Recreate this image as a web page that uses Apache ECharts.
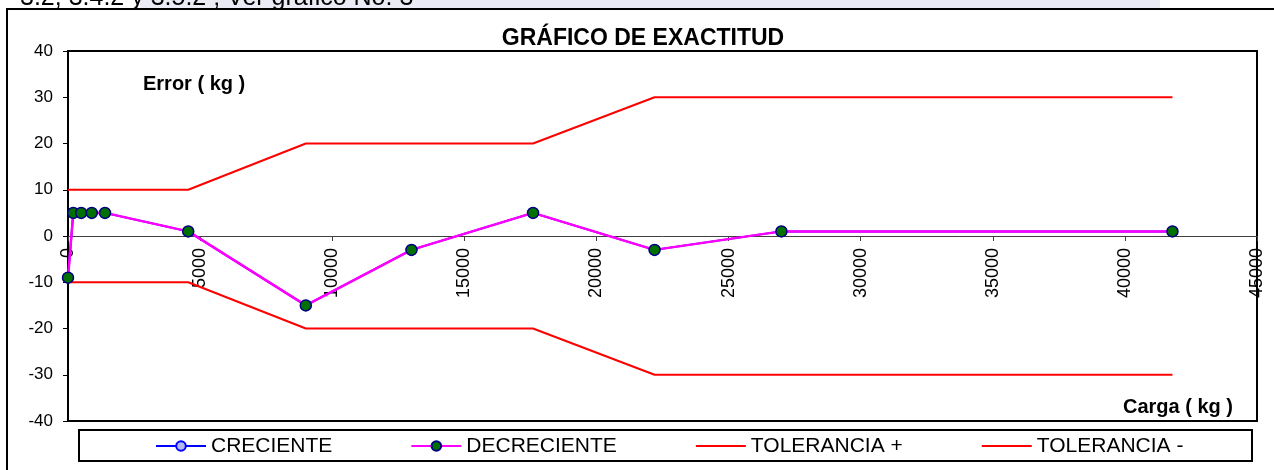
<!DOCTYPE html>
<html>
<head>
<meta charset="utf-8">
<script src="https://cdn.jsdelivr.net/npm/echarts@6/dist/echarts.min.js"></script>
<style>
  html, body { margin: 0; padding: 0; background: #fff; }
  #chart { width: 1274px; height: 470px; }
</style>
</head>
<body>
<div id="chart"></div>
<script>
// carga (kg) de cada punto de ensayo
var cargas = [0, 200, 500, 900, 1400, 4550, 9000, 13000, 17600, 22200, 27000, 41800];
// error (kg) en carga creciente y decreciente
var errCreciente = [-9, 5, 5, 5, 5, 1, -15, -3, 5, -3, 1, 1];
var errDecreciente = [-9, 5, 5, 5, 5, 1, -15, -3, 5, -3, 1, 1];
// tolerancias
var tolCargas = [0, 4550, 9000, 13000, 17600, 22200, 27000, 41800];
var tolMas = [10, 10, 20, 20, 20, 30, 30, 30];
var tolMenos = [-10, -10, -20, -20, -20, -30, -30, -30];

var nombres = ['CRECIENTE', 'DECRECIENTE', 'TOLERANCIA +', 'TOLERANCIA -'];

function pares(xs, ys) {
    return xs.map(function (x, i) { return [x, ys[i]]; });
}

var font = '"Liberation Sans", Arial, sans-serif';

var chart = echarts.init(document.getElementById('chart'));

var option = {
    animation: false,
    textStyle: { fontFamily: font, color: '#000' },
    grid: {
        left: 68, right: 17, top: 51, bottom: 49,
        outerBoundsMode: 'none',
        containLabel: false,
        show: true, borderColor: '#000', borderWidth: 2
    },
    graphic: [
        // franja de fondo arriba (marca de agua)
        { type: 'rect', shape: { x: 140, y: 0, width: 1020, height: 8 }, style: { fill: '#ebebf5' }, z: -10 },
        { type: 'text', left: 20, top: -14, style: { text: '3.2, 3.4.2 y 3.5.2 ; Ver gráfico No. 3', font: '25px ' + font, fill: '#000' }, z: -5 },
        // marco exterior
        { type: 'rect', shape: { x: 7, y: 9, width: 1280, height: 480 }, style: { fill: null, stroke: '#000', lineWidth: 2 }, z: -1 },
        { type: 'text', x: 643, y: 39, style: { text: 'GRÁFICO DE EXACTITUD', font: 'bold 23px ' + font, fill: '#000', align: 'center', verticalAlign: 'middle' } },
        { type: 'text', x: 143, y: 84, style: { text: 'Error ( kg )', font: 'bold 20px ' + font, fill: '#000', align: 'left', verticalAlign: 'middle' } },
        { type: 'text', x: 1233, y: 407, style: { text: 'Carga ( kg )', font: 'bold 20px ' + font, fill: '#000', align: 'right', verticalAlign: 'middle' } },
        // caja de la leyenda
        { type: 'rect', shape: { x: 79, y: 430, width: 1173, height: 31 }, style: { fill: '#fff', stroke: '#000', lineWidth: 2 }, z: 0 }
    ],
    legend: {
        data: [
            { name: nombres[0] },
            { name: nombres[1] },
            { name: nombres[2], itemStyle: { opacity: 0 } },
            { name: nombres[3], itemStyle: { opacity: 0 } }
        ],
        left: 155, top: 435,
        padding: 0,
        itemWidth: 50, itemHeight: 12, itemGap: 78,
        textStyle: { fontSize: 21, fontFamily: font, color: '#000', lineHeight: 22 },
        z: 5
    },
    xAxis: {
        type: 'value',
        min: 0, max: 45000, interval: 5000,
        // eje dibujado a la altura del cero
        offset: -185,
        axisLine: { onZero: false, lineStyle: { color: '#404040', width: 1 } },
        axisTick: { show: true, length: 5, lineStyle: { color: '#404040' } },
        axisLabel: {
            rotate: 90, fontSize: 18, color: '#000', margin: 12, fontFamily: font,
            showMaxLabel: true,
            formatter: function (v) { return String(v); }
        },
        splitLine: { show: false }
    },
    yAxis: {
        type: 'value',
        min: -40, max: 40, interval: 10,
        axisLine: { show: true, lineStyle: { color: '#000', width: 2 } },
        axisTick: { show: true, length: 5, lineStyle: { color: '#000' } },
        axisLabel: { fontSize: 17, color: '#000', margin: 15, fontFamily: font },
        splitLine: { show: false }
    },
    series: [
        {
            name: 'CRECIENTE',
            type: 'line',
            data: pares(cargas, errCreciente),
            symbol: 'circle', symbolSize: 10,
            lineStyle: { color: '#0000ff', width: 2 },
            itemStyle: { color: '#b4b8f0', borderColor: '#0000ff', borderWidth: 1.5 },
            z: 2
        },
        {
            name: 'DECRECIENTE',
            type: 'line',
            data: pares(cargas, errDecreciente),
            symbol: 'circle', symbolSize: 11,
            lineStyle: { color: '#ff00ff', width: 2.5 },
            itemStyle: { color: '#007000', borderColor: '#000080', borderWidth: 1.5 },
            z: 3
        },
        {
            name: 'TOLERANCIA +',
            type: 'line',
            data: pares(tolCargas, tolMas),
            symbol: 'none',
            lineStyle: { color: '#ff0000', width: 2 },
            itemStyle: { color: '#ff0000' },
            z: 1
        },
        {
            name: 'TOLERANCIA -',
            type: 'line',
            data: pares(tolCargas, tolMenos),
            symbol: 'none',
            lineStyle: { color: '#ff0000', width: 2 },
            itemStyle: { color: '#ff0000' },
            z: 1
        }
    ]
};

chart.setOption(option);
</script>
</body>
</html>
